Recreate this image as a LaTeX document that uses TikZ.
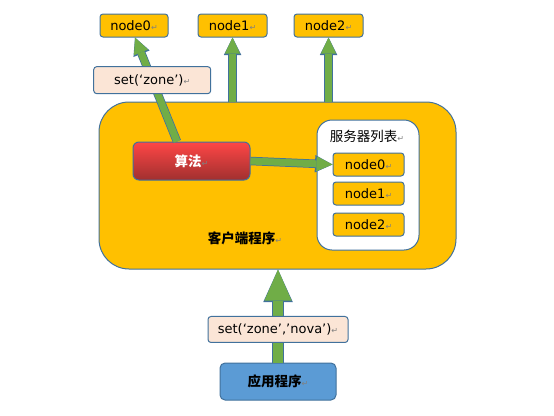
\documentclass[tikz,border=0pt]{standalone}
\usepackage{fontspec}
\setmainfont{DejaVu Sans}
\newfontfamily\cjk{Noto Sans CJK SC}
\newfontfamily\symfont{DejaVu Sans}
\usetikzlibrary{arrows.meta,positioning}
\definecolor{boxorange}{HTML}{FFC000}
\definecolor{boxline}{HTML}{41719C}
\definecolor{tagpink}{HTML}{FBE5D6}
\definecolor{appblue}{HTML}{5B9BD5}
\definecolor{arrowgreen}{HTML}{70AD47}
\definecolor{algtop}{HTML}{FF4646}
\definecolor{algbottom}{HTML}{A0302F}
\newcommand{\ret}{{\symfont\mdseries\color{gray}\fontsize{8}{8}\selectfont ↵}}
\tikzset{
	box/.style = {draw = boxline, line width = 1pt, rounded corners = 3pt, fill = boxorange,
		minimum width = 68pt, minimum height = 23pt, inner sep = 0pt, font = \fontsize{13}{15}\selectfont},
	tag/.style = {box, fill = tagpink, minimum height = 27pt},
	green arrow/.style = {draw = arrowgreen, line width = 7pt,
		-{Triangle[length = 16pt, width = 15pt, line width = 0pt]},
		preaction = {draw = boxline, line width = 8.5pt, -{Triangle[length = 17.5pt, width = 17.5pt, line width = 0pt]}}},
	fat arrow/.style = {draw = arrowgreen, line width = 10pt,
		-{Triangle[length = 31pt, width = 27pt, line width = 0pt]},
		preaction = {draw = boxline, line width = 11.5pt, -{Triangle[length = 32.5pt, width = 29.5pt, line width = 0pt]}}}
}
\begin{document}
\begin{tikzpicture}[x = 1pt, y = -1pt]
	\useasboundingbox (0, 0) rectangle (554, 415);

	% servers on top
	\node [box] (n0) at (134, 25.5) {node0\ret};
	\node [box, minimum width = 69pt] (n1) at (232.5, 25.5) {node1\ret};
	\node [box, minimum width = 69pt] (n2) at (328.5, 25.5) {node2\ret};

	% client program
	\node [box, rounded corners = 30pt, minimum width = 357pt, minimum height = 167pt] (client) at (277.5, 185.5) {};
	\node [font = \cjk\bfseries\fontsize{13.5}{15}\selectfont] (clientname) at (245, 238) {客户端程序\ret};

	\node [box, fill = white, rounded corners = 15pt, minimum width = 102pt, minimum height = 130pt] (list) at (368, 185) {};
	\node [font = \cjk\fontsize{13.5}{15}\selectfont] (listname) at (367, 136) {服务器列表\ret};
	\node [box, minimum width = 71pt] (s0) at (368.5, 164.5) {node0\ret};
	\node [box, minimum width = 71pt, below = 5pt of s0] (s1) {node1\ret};
	\node [box, minimum width = 71pt, below = 7pt of s1] (s2) {node2\ret};

	\node [box, rounded corners = 6pt, top color = algtop, bottom color = algbottom,
		minimum width = 117pt, minimum height = 38pt, text = white,
		font = \cjk\bfseries\fontsize{13.5}{15}\selectfont] (alg) at (191.5, 161) {算法\ret};

	% application
	\node [box, fill = appblue, rounded corners = 5pt, minimum width = 116pt, minimum height = 37pt,
		font = \cjk\bfseries\fontsize{13.5}{15}\selectfont] (app) at (278, 381.5) {应用程序\ret};

	% arrows
	\draw [green arrow] (client.north -| n1) -- (n1.south);
	\draw [green arrow] (client.north -| n2) -- (n2.south);
	\draw [green arrow] ([xshift = -14.5pt]alg.north) -- node [tag, pos = 0.59, minimum width = 117pt] (zonetag) {set(‘zone’)\ret} ([xshift = 1pt]n0.south);
	\draw [green arrow] (alg.east) -- (s0.west);
	\draw [fat arrow] (app.north) -- node [tag, pos = 0.355, minimum width = 140pt, minimum height = 26pt] (novatag) {set(‘zone’,’nova’)\ret} (client.south -| app);
\end{tikzpicture}
\end{document}
